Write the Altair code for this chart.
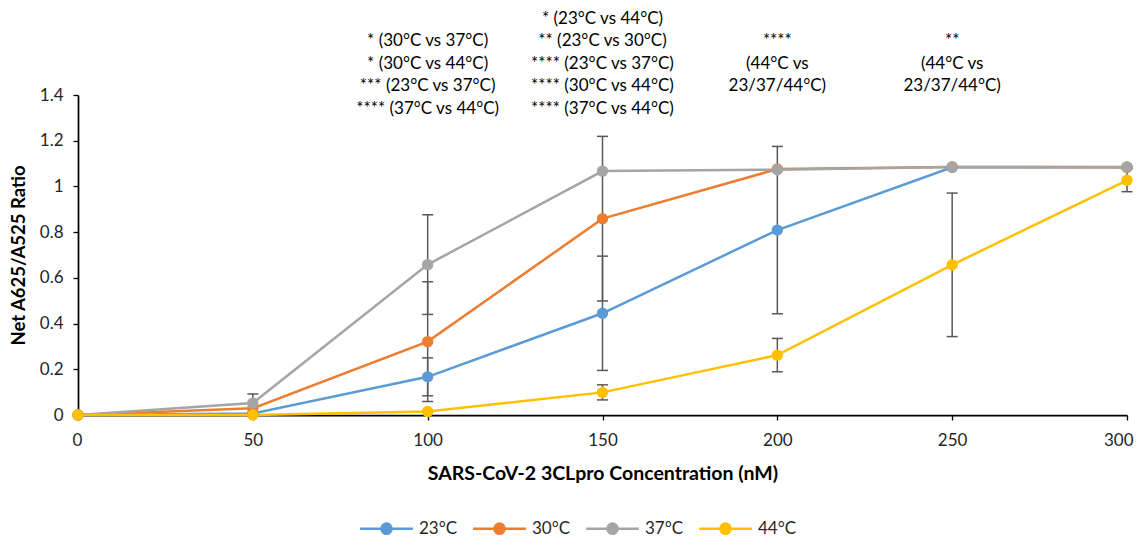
import altair as alt
import pandas as pd

conc = [0, 50, 100, 150, 200, 250, 300]
y_ticks = [0, 0.2, 0.4, 0.6, 0.8, 1, 1.2, 1.4]
temps = ["23°C", "30°C", "37°C", "44°C"]
colors = ["#5B9BD5", "#ED7D31", "#A5A5A5", "#FFC000"]

ratio_23 = [0, 0.007, 0.167, 0.445, 0.809, 1.084, 1.084]
ratio_30 = [0, 0.029, 0.321, 0.859, 1.076, 1.085, 1.084]
ratio_37 = [0, 0.052, 0.658, 1.067, 1.073, 1.085, 1.085]
ratio_44 = [0, 0.0, 0.015, 0.099, 0.262, 0.657, 1.027]

err_23 = [0, 0, 0.083, 0.25, 0.366, 0, 0]
err_30 = [0, 0, 0.262, 0.36, 0, 0, 0]
err_37 = [0, 0.04, 0.218, 0, 0, 0, 0]
err_44 = [0, 0, 0, 0.033, 0.073, 0.314, 0.05]

annot_x = [100, 150, 200, 250]
annot_lines = [
    ["* (30°C vs 37°C)", "* (30°C vs 44°C)", "*** (23°C vs 37°C)", "**** (37°C vs 44°C)"],
    ["* (23°C vs 44°C)", "** (23°C vs 30°C)", "**** (23°C vs 37°C)", "**** (30°C vs 44°C)", "**** (37°C vs 44°C)"],
    ["****", "(44°C vs", "23/37/44°C)"],
    ["**", "(44°C vs", "23/37/44°C)"],
]

series = {"23°C": (ratio_23, err_23), "30°C": (ratio_30, err_30),
          "37°C": (ratio_37, err_37), "44°C": (ratio_44, err_44)}
rows = []
for t in temps:
    vals, errs = series[t]
    for c, v, e in zip(conc, vals, errs):
        rows.append({"temp": t, "conc": c, "ratio": v, "err": e, "lo": v - e, "hi": v + e})
df = pd.DataFrame(rows)

# pad every block to the same number of lines so that all blocks share a bottom line
n_max = max(len(l) for l in annot_lines)
annot_df = pd.DataFrame({
    "x": annot_x,
    "text": ["\n".join([" "] * (n_max - len(l)) + l) for l in annot_lines],
})

FONT = "Lato"
TXT = "#262626"
FS = 17

x_enc = alt.X("conc:Q", scale=alt.Scale(domain=[0, 300], nice=False),
              axis=alt.Axis(values=conc, title="SARS-CoV-2 3CLpro Concentration (nM)", grid=False,
                            tickSize=5, labelPadding=12, titlePadding=16, format="d",
                            titleFontSize=19.5, labelFlush=True, labelFlushOffset=6))
y_enc = alt.Y("ratio:Q", scale=alt.Scale(domain=[0, 1.4], nice=False),
              axis=alt.Axis(values=y_ticks, title="Net A625/A525 Ratio", format="~g", grid=False,
                            tickSize=5, labelPadding=10, titlePadding=11, titleFontSize=18.5))

color_scale = alt.Scale(domain=temps, range=colors)
sym_path = "M-4.4,0H4.4M-0.85,0A0.85,0.85,0,1,1,0.85,0A0.85,0.85,0,1,1,-0.85,0Z"
leg = alt.Legend(title=None, orient="none", legendX=300, legendY=425, direction="horizontal",
                 symbolType=sym_path, symbolSize=144, symbolStrokeWidth=2.5,
                 labelFontSize=FS, labelFont=FONT, labelColor=TXT, labelOffset=24,
                 columnPadding=10)

base = alt.Chart(df)
bars = base.transform_filter("datum.err > 0").mark_rule(color="#595959", strokeWidth=1.5).encode(
    x=x_enc, y="lo:Q", y2="hi:Q")
caps = base.transform_filter("datum.err > 0").transform_fold(["lo", "hi"], as_=["end", "val"]).mark_tick(
    orient="horizontal", size=11, thickness=1.5, color="#595959", opacity=1).encode(
    x="conc:Q", y="val:Q")
lines = base.mark_line(strokeWidth=2.5).encode(
    x=x_enc, y=y_enc, stroke=alt.Stroke("temp:N", scale=color_scale, legend=leg))
points = base.mark_circle(size=130, opacity=1).encode(
    x="conc:Q", y="ratio:Q", fill=alt.Fill("temp:N", scale=color_scale, legend=leg))
annot = alt.Chart(annot_df).mark_text(align="center", baseline="bottom", lineBreak="\n",
                                      lineHeight=22.4, fontSize=FS, font=FONT, color="#000000").encode(
    x="x:Q", y=alt.value(-67), text="text:N")

chart = alt.layer(bars, caps, lines, points, annot).properties(
    width=1049, height=320,
    autosize=alt.AutoSizeParams(type="none"),
    padding={"left": 70, "top": 87, "right": 8, "bottom": 123},
).configure_view(stroke=None).configure_axis(
    domainColor="#000000", domainWidth=1.75, tickColor="#000000", tickWidth=1.3,
    labelFont=FONT, labelFontSize=FS, labelColor=TXT,
    titleFont=FONT, titleFontWeight="bold", titleColor="#000000",
)

chart.save("out.html", embed_options={"renderer": "svg", "actions": False})
